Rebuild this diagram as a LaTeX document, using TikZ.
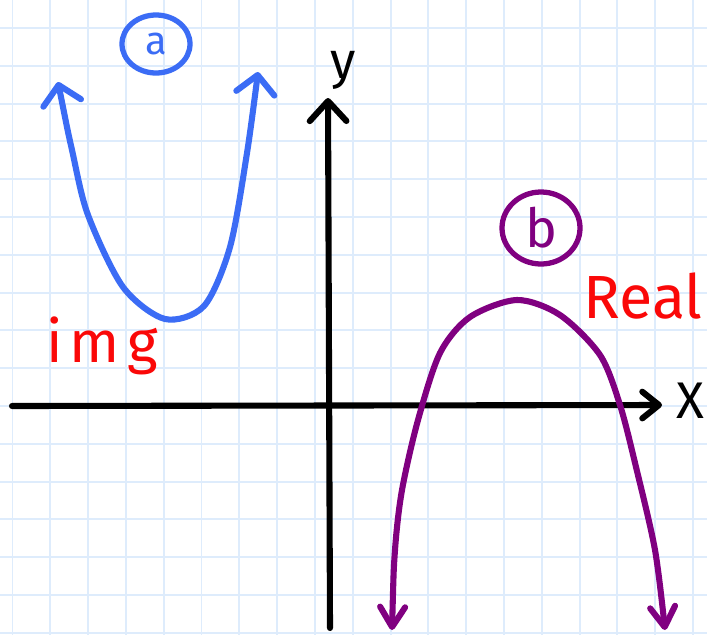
\documentclass[tikz,border=0pt]{standalone}
\usepackage{fontspec}
\setmainfont{Fira Sans}
\newfontfamily\spacedfont[LetterSpace=12]{Fira Sans}
\usepackage{tikz}
\usetikzlibrary{arrows.meta,shapes.geometric,positioning}
\usepackage{xcolor}
\definecolor{gridblue}{RGB}{222,236,252}
\definecolor{penblue}{RGB}{59,108,245}
\definecolor{penpurple}{RGB}{128,0,128}
\definecolor{penred}{RGB}{250,8,8}

\tikzset{
    gridline/.style={gridblue, line width=1.7pt},
    pen/.style={line width=5.2pt, line cap=round, line join=round},
    handtext/.style={inner sep=0pt, font=\fontsize{44}{44}\selectfont},
    ringlabel/.style={ellipse, draw, line width=4.5pt, inner sep=0pt},
    bluebarb/.tip={Straight Barb[round, length=0.55cm, width=1.15cm]},
    purplebarb/.tip={Straight Barb[round, length=0.6cm, width=0.75cm]},
    axisbarb/.tip={Straight Barb[round, length=0.5cm, width=0.8cm]},
    ybarb/.tip={Straight Barb[round, length=0.6cm, width=1.1cm]}
}

\begin{document}
\begin{tikzpicture}[x=0.03cm, y=-0.03cm]
    % paper
    \fill[white] (0,0) rectangle (707,635);
    \useasboundingbox (0,0) rectangle (707,635);
    \foreach \i in {0,...,18}
        \draw[gridline] ({12.5+37.8*\i},0) -- ({12.5+37.8*\i},635);
    \foreach \j in {0,...,17}
        \draw[gridline] (0,{-9.8+37.8*\j}) -- (707,{-9.8+37.8*\j});

    % axes
    \coordinate (xleft) at (12,406);
    \coordinate (xright) at (662,405);
    \coordinate (ybottom) at (330,628);
    \coordinate (ytop) at (328,98);
    \draw[pen, -{axisbarb}] (xleft) -- (xright);
    \draw[pen, -{ybarb}] (ybottom) -- (ytop);
    \node[handtext] (xlabel) at (690,401) {X};
    \node[handtext] (ylabel) at (343,70) {y};

    % curve a
    \draw[pen, penblue, {bluebarb}-{bluebarb}] plot[smooth] coordinates {
        (58,82) (72,150) (88,215) (123,287) (165,319)
        (204,306) (230,247) (247,153) (258,72)};
    \node[ringlabel, draw=penblue, text=penblue, minimum width=2.04cm,
        minimum height=1.74cm, font=\fontsize{34}{34}\selectfont] (labela) at (156,44) {a};
    \node[anchor=base west, inner sep=0pt, text=penred,
        font=\spacedfont\fontsize{50}{50}\selectfont] (img) at (46,362) {img};

    % curve b
    \draw[pen, penpurple, {purplebarb}-{purplebarb}] plot[smooth] coordinates {
        (392,630) (395,550) (402,490) (418,420)
        (440,353) (470,317) (517,300) (560,315) (600,355)
        (620,405) (636,467) (655,550) (665,630)};
    \node[ringlabel, draw=penpurple, text=penpurple, minimum width=2.34cm,
        minimum height=2.16cm, font=\fontsize{46}{46}\selectfont] (labelb) at (541,228) {b};
    \node[anchor=base east, inner sep=0pt, text=penred,
        font=\fontsize{52}{52}\selectfont] (real) at (703,318) {Real};
\end{tikzpicture}
\end{document}
